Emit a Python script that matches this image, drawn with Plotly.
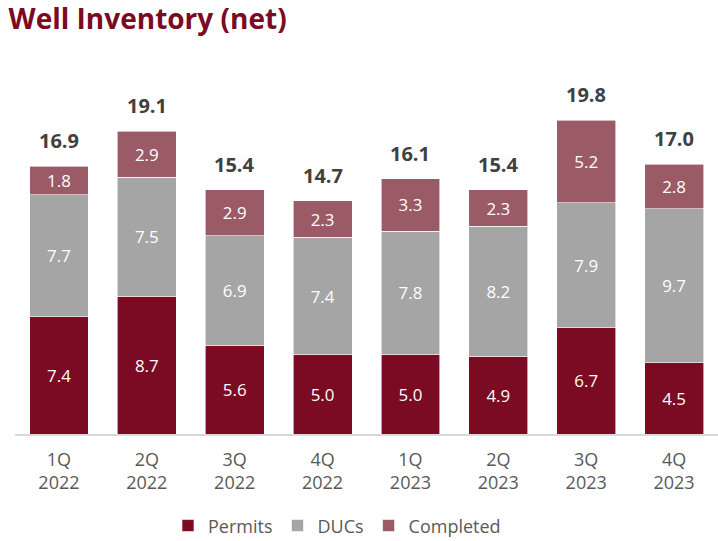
import plotly.graph_objects as go

quarters = ["1Q<br>2022", "2Q<br>2022", "3Q<br>2022", "4Q<br>2022",
            "1Q<br>2023", "2Q<br>2023", "3Q<br>2023", "4Q<br>2023"]
permits = [7.4, 8.7, 5.6, 5.0, 5.0, 4.9, 6.7, 4.5]
ducs = [7.7, 7.5, 6.9, 7.4, 7.8, 8.2, 7.9, 9.7]
completed = [1.8, 2.9, 2.9, 2.3, 3.3, 2.3, 5.2, 2.8]
totals = [16.9, 19.1, 15.4, 14.7, 16.1, 15.4, 19.8, 17.0]

FONT = "Open Sans"
series = [
    ("Permits", permits, "#7B0A23"),
    ("DUCs", ducs, "#A5A5A5"),
    ("Completed", completed, "#9B5B66"),
]

fig = go.Figure()
for name, vals, color in series:
    fig.add_trace(go.Bar(
        x=quarters, y=vals, name=name,
        marker=dict(color=color, line=dict(color="white", width=0.6)),
        text=[f"{v:.1f}" for v in vals],
        textposition="inside", insidetextanchor="middle",
        textfont=dict(color="white", size=18, family=FONT),
        hoverinfo="skip",
    ))

# stack totals above each bar
for q, t in zip(quarters, totals):
    fig.add_annotation(
        x=q, y=t, text=f"<b>{t:.1f}</b>", showarrow=False,
        yanchor="bottom", yshift=10,
        font=dict(size=20, color="#404040", family=FONT),
    )

fig.update_layout(
    width=718, height=541,
    barmode="stack", bargap=0.33,
    paper_bgcolor="white", plot_bgcolor="white",
    margin=dict(l=15, r=0, t=40, b=107, autoexpand=False),
    title=dict(text="<b>Well Inventory (net)</b>", x=0.012, xanchor="left",
               y=0.965, yanchor="middle",
               font=dict(size=28, color="#7B0A23", family=FONT)),
    legend=dict(orientation="h", x=0.458, xanchor="center",
                yref="container", y=0.028, yanchor="middle",
                traceorder="normal",
                font=dict(size=18, color="#595959", family=FONT)),
    uniformtext=dict(minsize=10, mode="show"),
)
fig.update_xaxes(showline=True, linecolor="#D9D9D9", linewidth=2,
                 tickfont=dict(size=18, color="#595959", family=FONT),
                 ticks="", showgrid=False, automargin=False,
                 ticklabelstandoff=8)
fig.update_yaxes(range=[0, 24.85], visible=False, showgrid=False)

fig.write_html("out.html")
